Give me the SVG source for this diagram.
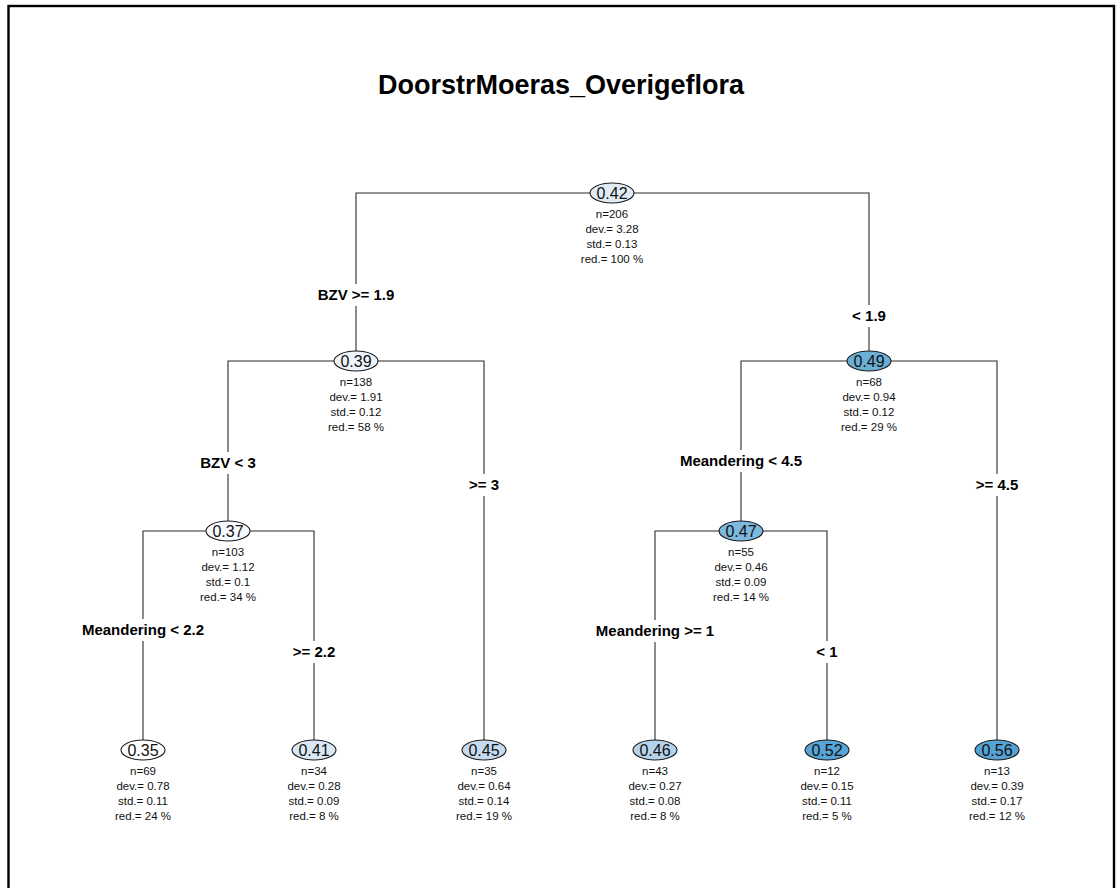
<svg xmlns="http://www.w3.org/2000/svg" width="1119" height="888" viewBox="0 0 1119 888">
  <style>
    .edge { stroke: #2b2b2b; stroke-width: 1.1; fill: none; }
    .node ellipse { stroke: #1a1a1a; stroke-width: 1.1; }
    .val { font-family: "Liberation Sans", Arial, sans-serif; font-size: 16px; text-anchor: middle; fill: #111; }
    .stat { font-family: "Liberation Sans", Arial, sans-serif; font-size: 11.5px; text-anchor: middle; fill: #111; }
    .split { font-family: "Liberation Sans", Arial, sans-serif; font-size: 15px; font-weight: bold; text-anchor: middle; fill: #000; }
    .title { font-family: "Liberation Sans", Arial, sans-serif; font-size: 27px; font-weight: bold; text-anchor: middle; fill: #000; }
  </style>

  <rect x="0" y="0" width="1119" height="888" fill="#ffffff"/>
  <!-- plot frame (bottom edge lies outside the canvas) -->
  <rect x="8.5" y="6" width="1105.5" height="920" fill="none" stroke="#000" stroke-width="2.4"/>

  <text class="title" x="561" y="94">DoorstrMoeras_Overigeflora</text>

  <!-- connectors, broken where split labels sit -->
  <g id="connectors">
    <path class="edge" d="M356,284 V193 H869 V305"/>
    <path class="edge" d="M356,306 V351"/>
    <path class="edge" d="M869,327 V351"/>

    <path class="edge" d="M228,452 V361 H484 V474"/>
    <path class="edge" d="M228,474 V521"/>
    <path class="edge" d="M484,496 V740"/>

    <path class="edge" d="M741,450 V361 H997 V474"/>
    <path class="edge" d="M741,472 V521"/>
    <path class="edge" d="M997,496 V740"/>

    <path class="edge" d="M143,619 V531 H314 V641"/>
    <path class="edge" d="M143,641 V740"/>
    <path class="edge" d="M314,663 V740"/>

    <path class="edge" d="M655,620 V531 H827 V641"/>
    <path class="edge" d="M655,642 V740"/>
    <path class="edge" d="M827,663 V740"/>
  </g>

  <!-- split labels -->
  <g id="labels">
    <text class="split" x="356" y="300">BZV &gt;= 1.9</text>
    <text class="split" x="869" y="321">&lt; 1.9</text>
    <text class="split" x="228" y="468">BZV &lt; 3</text>
    <text class="split" x="484" y="490">&gt;= 3</text>
    <text class="split" x="741" y="466">Meandering &lt; 4.5</text>
    <text class="split" x="997" y="490">&gt;= 4.5</text>
    <text class="split" x="143" y="635">Meandering &lt; 2.2</text>
    <text class="split" x="314" y="657">&gt;= 2.2</text>
    <text class="split" x="655" y="636">Meandering &gt;= 1</text>
    <text class="split" x="827" y="657">&lt; 1</text>
  </g>

  <g id="n1" class="node">
    <ellipse cx="612" cy="193" rx="22" ry="10" fill="#e1ebf6"/>
    <text class="val" x="612" y="199">0.42</text>
    <text class="stat" x="612" y="218">n=206</text>
    <text class="stat" x="612" y="233">dev.= 3.28</text>
    <text class="stat" x="612" y="248">std.= 0.13</text>
    <text class="stat" x="612" y="263">red.= 100 %</text>
  </g>

  <g id="n2" class="node">
    <ellipse cx="356" cy="361" rx="22" ry="10" fill="#edf4fb"/>
    <text class="val" x="356" y="367">0.39</text>
    <text class="stat" x="356" y="386">n=138</text>
    <text class="stat" x="356" y="401">dev.= 1.91</text>
    <text class="stat" x="356" y="416">std.= 0.12</text>
    <text class="stat" x="356" y="431">red.= 58 %</text>
  </g>

  <g id="n3" class="node">
    <ellipse cx="869" cy="361" rx="22" ry="10" fill="#6baed6"/>
    <text class="val" x="869" y="367">0.49</text>
    <text class="stat" x="869" y="386">n=68</text>
    <text class="stat" x="869" y="401">dev.= 0.94</text>
    <text class="stat" x="869" y="416">std.= 0.12</text>
    <text class="stat" x="869" y="431">red.= 29 %</text>
  </g>

  <g id="n4" class="node">
    <ellipse cx="228" cy="531" rx="22" ry="10" fill="#f7fbff"/>
    <text class="val" x="228" y="537">0.37</text>
    <text class="stat" x="228" y="556">n=103</text>
    <text class="stat" x="228" y="571">dev.= 1.12</text>
    <text class="stat" x="228" y="586">std.= 0.1</text>
    <text class="stat" x="228" y="601">red.= 34 %</text>
  </g>

  <g id="n5" class="node">
    <ellipse cx="741" cy="531" rx="22" ry="10" fill="#7db8de"/>
    <text class="val" x="741" y="537">0.47</text>
    <text class="stat" x="741" y="556">n=55</text>
    <text class="stat" x="741" y="571">dev.= 0.46</text>
    <text class="stat" x="741" y="586">std.= 0.09</text>
    <text class="stat" x="741" y="601">red.= 14 %</text>
  </g>

  <g id="n6" class="node">
    <ellipse cx="143" cy="750" rx="22" ry="10" fill="#ffffff"/>
    <text class="val" x="143" y="756">0.35</text>
    <text class="stat" x="143" y="775">n=69</text>
    <text class="stat" x="143" y="790">dev.= 0.78</text>
    <text class="stat" x="143" y="805">std.= 0.11</text>
    <text class="stat" x="143" y="820">red.= 24 %</text>
  </g>

  <g id="n7" class="node">
    <ellipse cx="314" cy="750" rx="22" ry="10" fill="#dae7f4"/>
    <text class="val" x="314" y="756">0.41</text>
    <text class="stat" x="314" y="775">n=34</text>
    <text class="stat" x="314" y="790">dev.= 0.28</text>
    <text class="stat" x="314" y="805">std.= 0.09</text>
    <text class="stat" x="314" y="820">red.= 8 %</text>
  </g>

  <g id="n8" class="node">
    <ellipse cx="484" cy="750" rx="22" ry="10" fill="#c6dbef"/>
    <text class="val" x="484" y="756">0.45</text>
    <text class="stat" x="484" y="775">n=35</text>
    <text class="stat" x="484" y="790">dev.= 0.64</text>
    <text class="stat" x="484" y="805">std.= 0.14</text>
    <text class="stat" x="484" y="820">red.= 19 %</text>
  </g>

  <g id="n9" class="node">
    <ellipse cx="655" cy="750" rx="22" ry="10" fill="#b5d2ea"/>
    <text class="val" x="655" y="756">0.46</text>
    <text class="stat" x="655" y="775">n=43</text>
    <text class="stat" x="655" y="790">dev.= 0.27</text>
    <text class="stat" x="655" y="805">std.= 0.08</text>
    <text class="stat" x="655" y="820">red.= 8 %</text>
  </g>

  <g id="n10" class="node">
    <ellipse cx="827" cy="750" rx="22" ry="10" fill="#57a4d8"/>
    <text class="val" x="827" y="756">0.52</text>
    <text class="stat" x="827" y="775">n=12</text>
    <text class="stat" x="827" y="790">dev.= 0.15</text>
    <text class="stat" x="827" y="805">std.= 0.11</text>
    <text class="stat" x="827" y="820">red.= 5 %</text>
  </g>

  <g id="n11" class="node">
    <ellipse cx="997" cy="750" rx="22" ry="10" fill="#56a2d4"/>
    <text class="val" x="997" y="756">0.56</text>
    <text class="stat" x="997" y="775">n=13</text>
    <text class="stat" x="997" y="790">dev.= 0.39</text>
    <text class="stat" x="997" y="805">std.= 0.17</text>
    <text class="stat" x="997" y="820">red.= 12 %</text>
  </g>
</svg>
